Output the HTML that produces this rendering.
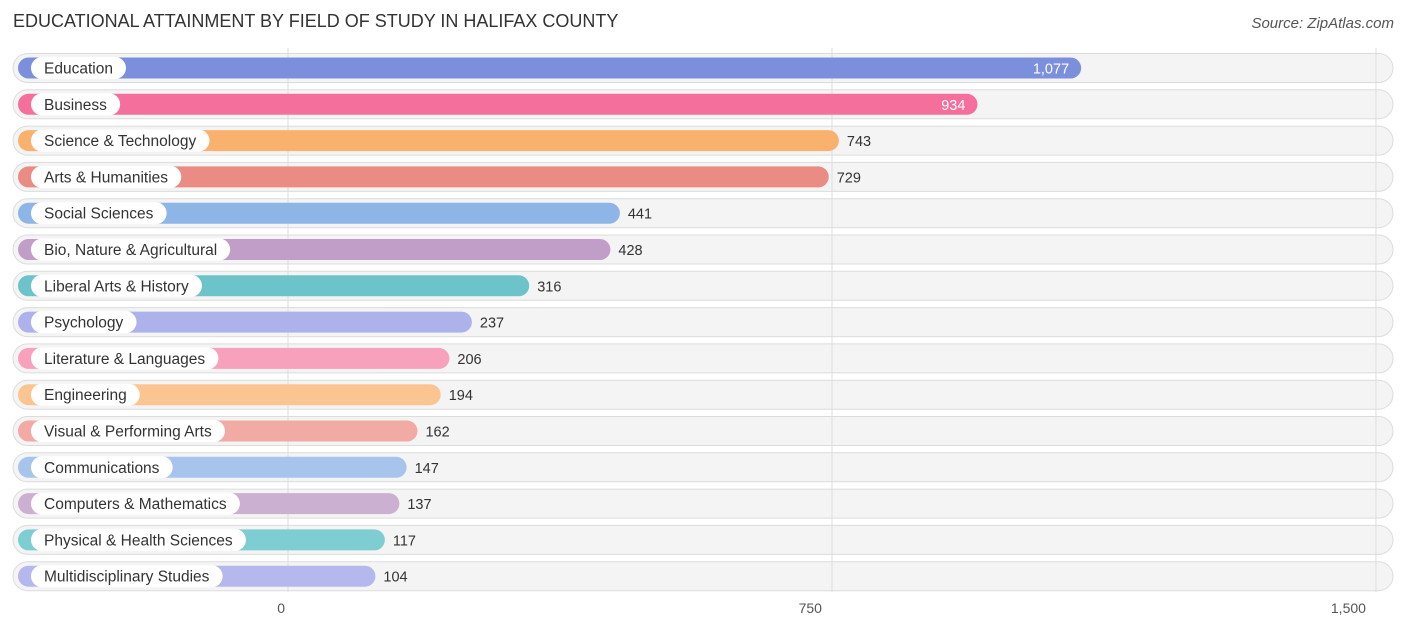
<!DOCTYPE html>
<html><head><meta charset="utf-8"><style>
body{margin:0;width:1406px;height:631px;background:#fff;font-family:"Liberation Sans",sans-serif;position:relative;overflow:hidden}
.t{position:absolute;left:13px;top:11px;font-size:18px;color:#333}
.s{position:absolute;right:12px;top:15px;font-size:15px;color:#555;font-style:italic}
svg{position:absolute;left:0;top:0}
</style></head><body>
<div class="t">EDUCATIONAL ATTAINMENT BY FIELD OF STUDY IN HALIFAX COUNTY</div>
<div class="s">Source: ZipAtlas.com</div>
<svg id="c" width="1406" height="631"></svg>
<script>
const categories=["Education","Business","Science & Technology","Arts & Humanities","Social Sciences","Bio, Nature & Agricultural","Liberal Arts & History","Psychology","Literature & Languages","Engineering","Visual & Performing Arts","Communications","Computers & Mathematics","Physical & Health Sciences","Multidisciplinary Studies"];
const values=[1077,934,743,729,441,428,316,237,206,194,162,147,137,117,104];
const colors=["#7b8fdc","#f46f9b","#f9b26e","#ea8b84","#8db5e6","#c09ec8","#6cc3c9","#adb3ea","#f7a1bd","#fbc592","#f2aaa5","#a7c5ec","#cbb0d2","#7ecdd2","#b5b8ec"];
const ticks=[0,750,1500];
const tickLabels=["0","750","1,500"];
const NS="http://www.w3.org/2000/svg";
const svg=document.getElementById('c');
const x=v=>288+v*0.7253;
const y=i=>68+i*36.3;
function mk(t,a){const e=document.createElementNS(NS,t);for(const k in a)e.setAttribute(k,a[k]);svg.appendChild(e);return e;}
categories.forEach((c,i)=>{
 const cy=y(i);
 const bg=mk('rect',{x:13,y:cy-14.5,width:1380,height:29,rx:14.5,fill:'#f4f4f4',stroke:'#dcdcdc','stroke-width':1});
 
});
ticks.forEach((t,i)=>{
 const l=mk('line',{x1:x(t),x2:x(t),y1:48,y2:592,stroke:'#ddd','stroke-width':1});
 
 const tx=mk('text',{x:x(t)-10*(i==0?0.3:1),y:613,'font-size':14,fill:'#555','text-anchor':i==0?'end':'end'});
 tx.textContent=tickLabels[i];
 
});
categories.forEach((c,i)=>{
 const cy=y(i),end=x(values[i])+12;
 const b=mk('rect',{x:18,y:cy-10.5,width:end-18,height:21,rx:10.5,fill:colors[i]});
 
 const lbl=mk('text',{x:44,y:cy+5.5,'font-size':15.5,fill:'#333'});lbl.textContent=c;
 const w=lbl.getBBox().width;
 const pill=mk('rect',{x:31,y:cy-11,width:w+26,height:22,rx:11,fill:'#fff'});
 
 svg.appendChild(lbl);
 
 const inside=i<2;
 const v=mk('text',{x:inside?end-12:end+8,y:cy+5.5,'font-size':14.5,fill:inside?'#fff':'#333','text-anchor':inside?'end':'start'});
 v.textContent=values[i].toLocaleString('en-US');
 
});
</script>
</body></html>
